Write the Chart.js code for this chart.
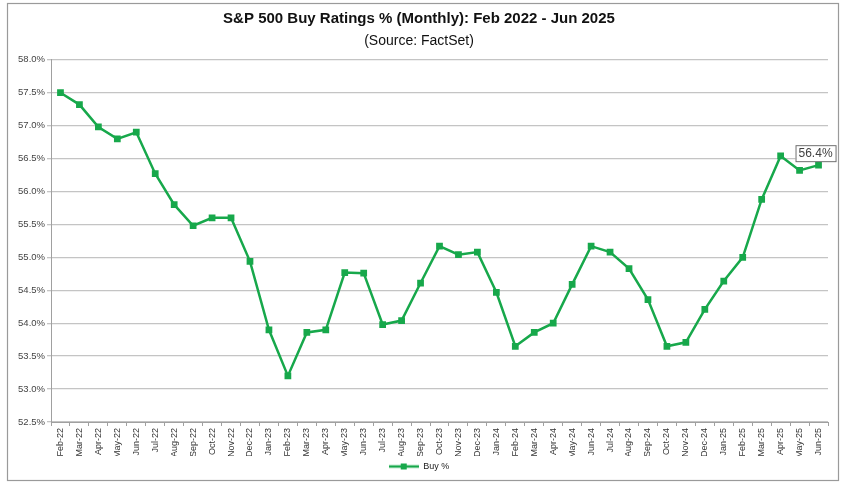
<!DOCTYPE html>
<html>
<head>
<meta charset="utf-8">
<script src="https://cdn.jsdelivr.net/npm/chart.js@4"></script>
<style>
  html, body { margin: 0; padding: 0; background: #fff; }
  #wrap { position: relative; width: 848px; height: 489px; }
</style>
</head>
<body>
<div id="wrap"><canvas id="buyChart"></canvas></div>
<script>
// months Feb-22 .. Jun-25
var months = ['Feb-22','Mar-22','Apr-22','May-22','Jun-22','Jul-22','Aug-22','Sep-22','Oct-22','Nov-22','Dec-22',
  'Jan-23','Feb-23','Mar-23','Apr-23','May-23','Jun-23','Jul-23','Aug-23','Sep-23','Oct-23','Nov-23','Dec-23',
  'Jan-24','Feb-24','Mar-24','Apr-24','May-24','Jun-24','Jul-24','Aug-24','Sep-24','Oct-24','Nov-24','Dec-24',
  'Jan-25','Feb-25','Mar-25','Apr-25','May-25','Jun-25'];

var buyPct = [57.50, 57.32, 56.98, 56.80, 56.90, 56.27, 55.80, 55.48, 55.60, 55.60, 54.94,
  53.90, 53.20, 53.86, 53.90, 54.77, 54.76, 53.98, 54.04, 54.61, 55.17, 55.04, 55.08,
  54.47, 53.65, 53.86, 54.00, 54.59, 55.17, 55.08, 54.83, 54.36, 53.65, 53.71, 54.21,
  54.64, 55.00, 55.88, 56.54, 56.32, 56.40];

var yMin = 52.5, yMax = 58.0, yStep = 0.5;
var lastLabel = '56.4%';

var green = '#17a84b';

// legend symbol: line with a square marker
var legendIcon = document.createElement('canvas');
legendIcon.width = 30; legendIcon.height = 8;
var lc = legendIcon.getContext('2d');
lc.strokeStyle = green; lc.lineWidth = 2.5;
lc.beginPath(); lc.moveTo(0, 4); lc.lineTo(30, 4); lc.stroke();
lc.fillStyle = green; lc.fillRect(12, 1, 6, 6);

var frame = {
  id: 'frame',
  beforeDraw: function(chart) {
    var c = chart.ctx;
    c.save();
    c.fillStyle = '#fff';
    c.fillRect(0, 0, chart.width, chart.height);
    c.strokeStyle = '#9a9a9a';
    c.lineWidth = 1.2;
    c.strokeRect(7.5, 3.5, 831, 477);
    c.restore();
  },
  afterDatasetsDraw: function(chart) {
    var meta = chart.getDatasetMeta(0);
    var p = meta.data[meta.data.length - 1];
    var c = chart.ctx;
    c.save();
    c.font = '12px "Liberation Sans", Arial, sans-serif';
    var w = c.measureText(lastLabel).width + 6;
    var bx = p.x - 23, by = p.y - 20;
    c.fillStyle = '#fff';
    c.fillRect(bx, by, w, 16);
    c.strokeStyle = '#707070';
    c.lineWidth = 1;
    c.strokeRect(bx + 0.5, by + 0.5, w, 16);
    c.fillStyle = '#404040';
    c.textBaseline = 'middle';
    c.fillText(lastLabel, bx + 3, by + 9);
    c.restore();
  }
};

var ctx = document.getElementById('buyChart').getContext('2d');
var chart = new Chart(ctx, {
  type: 'line',
  data: {
    labels: months,
    datasets: [{
      label: 'Buy %',
      data: buyPct,
      borderColor: green,
      backgroundColor: green,
      borderWidth: 2.5,
      pointStyle: 'rect',
      pointRadius: 3,
      pointHoverRadius: 3,
      tension: 0
    }]
  },
  options: {
    responsive: true,
    maintainAspectRatio: false,
    animation: false,
    layout: { padding: { top: 10, left: 10, right: 20, bottom: 8 } },
    plugins: {
      title: {
        display: true,
        text: 'S&P 500 Buy Ratings % (Monthly): Feb 2022 - Jun 2025',
        color: '#111',
        font: { family: '"Liberation Sans", Arial, sans-serif', size: 15, weight: 'bold' },
        padding: { top: 0, bottom: 5 }
      },
      subtitle: {
        display: true,
        text: '(Source: FactSet)',
        color: '#111',
        font: { family: '"Liberation Sans", Arial, sans-serif', size: 14 },
        padding: { top: 0, bottom: 10 }
      },
      legend: {
        position: 'bottom',
        labels: {
          usePointStyle: true,
          pointStyleWidth: 30,
          color: '#222',
          font: { family: '"Liberation Sans", Arial, sans-serif', size: 9 },
          padding: 6,
          generateLabels: function(chart) {
            var items = Chart.defaults.plugins.legend.labels.generateLabels(chart);
            items.forEach(function(it) { it.pointStyle = legendIcon; });
            return items;
          }
        }
      },
      tooltip: { enabled: false }
    },
    scales: {
      x: {
        offset: true,
        grid: { display: true, drawOnChartArea: false, drawTicks: true, tickLength: 4, color: '#a0a0a0', offset: true },
        border: { color: '#a0a0a0' },
        afterFit: function(s) { s.height = 34; },
        ticks: {
          autoSkip: false,
          maxRotation: 90,
          minRotation: 90,
          padding: 2,
          color: '#333',
          font: { family: '"Liberation Sans", Arial, sans-serif', size: 9 }
        }
      },
      y: {
        min: yMin,
        max: yMax,
        grid: { color: '#c4c4c4', lineWidth: 1.3, drawTicks: true, tickLength: 4 },
        border: { color: '#a0a0a0' },
        afterFit: function(s) { s.width = 41; },
        ticks: {
          stepSize: yStep,
          padding: 2,
          color: '#444',
          font: { family: '"Liberation Sans", Arial, sans-serif', size: 9.5 },
          callback: function(v) { return Number(v).toFixed(1) + '%'; }
        }
      }
    }
  },
  plugins: [frame]
});
</script>
</body>
</html>
